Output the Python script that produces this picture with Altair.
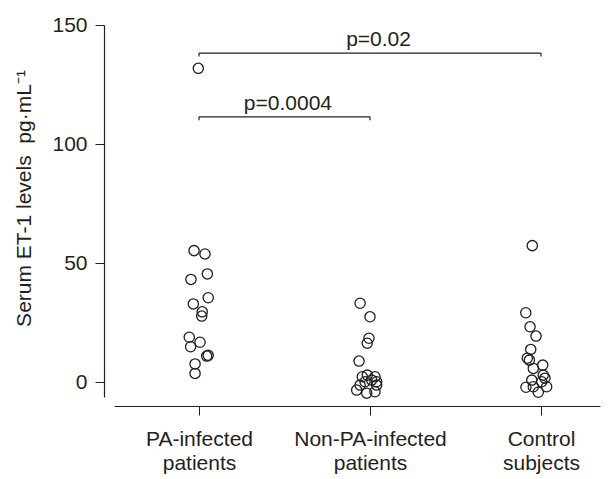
import altair as alt
import pandas as pd

FONT = "Liberation Sans, Arial, sans-serif"
INK = "#231f20"
FS = 21

# Category labels (x positions 1, 2, 3)
categories = [["PA-infected", "patients"], ["Non-PA-infected", "patients"], ["Control", "subjects"]]
cat_pos = [1, 2, 3]

# Jittered x positions and serum ET-1 values (pg/mL)
pa_x = [0.971, 1.035, 1.049, 0.953, 1.054, 0.967, 1.019, 1.016, 0.943, 1.006, 0.951, 1.045, 1.054, 0.977, 0.977, 0.996]
pa_y = [55.2, 53.8, 45.4, 43.1, 35.4, 32.8, 29.5, 27.7, 18.8, 16.7, 14.8, 10.9, 11.2, 7.6, 3.6, 131.8]

npa_x = [1.942, 2.000, 1.994, 1.984, 1.936, 1.955, 1.984, 2.029, 2.039, 2.010, 1.971, 1.942, 1.922, 1.981, 2.029, 2.039]
npa_y = [33.1, 27.4, 18.4, 16.3, 8.8, 2.2, 2.9, 2.2, 0.1, 0.8, 0.1, -1.3, -3.4, -4.7, -4.1, -1.3]

ctl_x = [2.949, 2.911, 2.936, 2.971, 2.940, 2.920, 2.932, 3.010, 2.955, 3.013, 2.946, 3.023, 2.912, 2.955, 2.984, 3.033, 3.004]
ctl_y = [57.3, 29.1, 23.2, 19.3, 13.7, 10.0, 9.2, 7.1, 5.7, 2.9, 0.8, 1.6, -2.2, -2.0, -4.3, -2.0, 0.1]

# Significance brackets
br_x1 = [1, 1]
br_x2 = [3, 2]
br_y = [138.2, 111.4]
br_drop = [1.4, 1.4]
br_label = ["p=0.02", "p=0.0004"]
br_label_x = [2.05, 1.52]

y_ticks = [0, 50, 100, 150]
x_domain = [0.503, 3.345]
y_domain = [-6.3, 150]

pts = pd.DataFrame({
    "x": pa_x + npa_x + ctl_x,
    "y": pa_y + npa_y + ctl_y,
})

br = pd.DataFrame({
    "x1": br_x1, "x2": br_x2, "y": br_y,
    "yd": [a - b for a, b in zip(br_y, br_drop)],
    "label": br_label, "lx": br_label_x,
})

label_expr = " : ".join(
    f"datum.value == {p} ? {repr(c)}" for p, c in zip(cat_pos, categories)
) + " : ''"

xscale = alt.Scale(domain=x_domain, nice=False, zero=False)
yscale = alt.Scale(domain=y_domain, nice=False, zero=False)

xaxis = alt.Axis(
    values=cat_pos, labelExpr=label_expr, title=None, offset=9, grid=False,
    tickSize=9, tickColor=INK, domainColor=INK, tickWidth=1, domainWidth=1.2,
    labelFont=FONT, labelFontSize=FS, labelColor=INK, labelPadding=13,
    labelLineHeight=24, labelAngle=0,
)
yaxis = alt.Axis(
    values=y_ticks, title="Serum ET-1 levels\u00a0 pg·mL⁻¹", offset=10, grid=False,
    tickSize=9, tickColor=INK, domainColor=INK, tickWidth=1, domainWidth=1.2,
    labelFont=FONT, labelFontSize=FS, labelColor=INK, labelPadding=8,
    titleFont=FONT, titleFontSize=FS, titleFontWeight="normal", titleColor=INK,
    titleX=-74, titleY=173, titleBaseline="alphabetic", titleAngle=-90, titleAlign="center",
)

points = alt.Chart(pts).mark_point(
    shape="circle", filled=False, size=105, strokeWidth=1.3, color=INK, opacity=1
).encode(
    x=alt.X("x:Q", scale=xscale, axis=xaxis),
    y=alt.Y("y:Q", scale=yscale, axis=yaxis),
)

hline = alt.Chart(br).mark_rule(color=INK, strokeWidth=1.2).encode(
    x=alt.X("x1:Q", scale=xscale), x2="x2:Q", y=alt.Y("y:Q", scale=yscale)
)
lend = alt.Chart(br).mark_rule(color=INK, strokeWidth=1.2).encode(
    x=alt.X("x1:Q", scale=xscale), y=alt.Y("y:Q", scale=yscale), y2="yd:Q"
)
rend = alt.Chart(br).mark_rule(color=INK, strokeWidth=1.2).encode(
    x=alt.X("x2:Q", scale=xscale), y=alt.Y("y:Q", scale=yscale), y2="yd:Q"
)
txt = alt.Chart(br).mark_text(
    font=FONT, fontSize=FS, color=INK, baseline="alphabetic", align="center", dy=-7
).encode(
    x=alt.X("lx:Q", scale=xscale), y=alt.Y("y:Q", scale=yscale), text="label:N"
)

chart = alt.layer(hline, lend, rend, txt, points).properties(
    width=486, height=372,
    background="white",
    autosize=alt.AutoSizeParams(type="none"),
    padding={"left": 106, "top": 17, "right": 2, "bottom": 80},
).configure_view(stroke=None)

chart.save("out.html", embed_options={"renderer": "svg", "actions": False})
